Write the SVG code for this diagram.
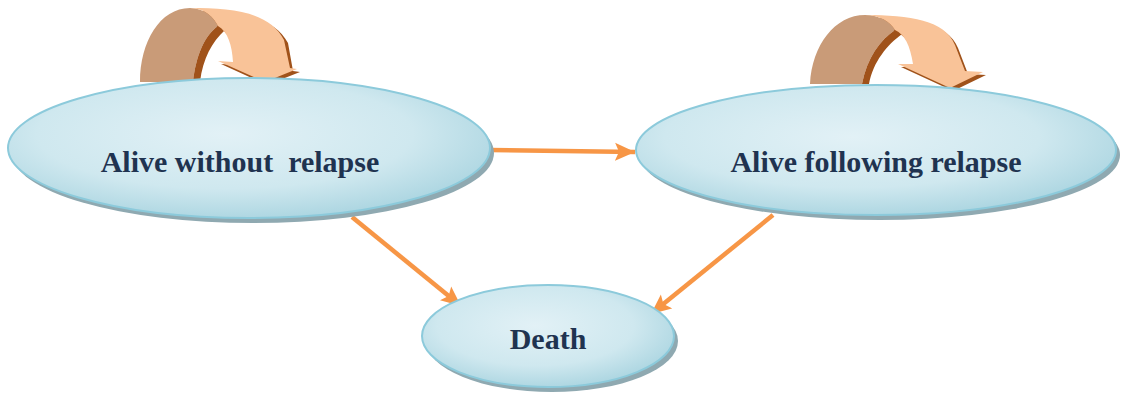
<svg xmlns="http://www.w3.org/2000/svg" width="1122" height="394" viewBox="0 0 1122 394">
<style>
.shadow{fill:#8fa9b1}
.oval{fill:url(#g);stroke:#8ccadb;stroke-width:2}
.lbl{font-family:"Liberation Serif","Times New Roman",serif;font-weight:bold;font-size:30px;fill:#1f3350;text-anchor:middle}
.conn{stroke:#f79646;stroke-width:4.5;fill:none}
.back{fill:#c99b78}
.front{fill:#f9c398}
.dark{fill:#a0521a}
</style>
<defs>
<radialGradient id="g" cx="0.45" cy="0.4" r="0.65">
<stop offset="0" stop-color="#e2f1f6"/>
<stop offset="0.6" stop-color="#cfe8ef"/>
<stop offset="1" stop-color="#a7d3df"/>
</radialGradient>
<marker id="ah" markerUnits="userSpaceOnUse" markerWidth="22" markerHeight="20" refX="20" refY="10" orient="auto">
<path d="M0,1 L20,10 L0,19 L4,10 Z" fill="#f79646"/>
</marker>
</defs>
<rect width="1122" height="394" fill="#ffffff"/>

<g id="loop1">
<path class="dark" d="M190,11 C233,11 273,15 288,43 L293,71 L300,72 L267,85 L221,64 L236,65 C235,48 231,35 221,29 Z"/>
<path class="back" d="M140,82 C140,42 160,8 190,8 C205,8 214,18 218,26 C205,35 196,55 193,82 Z"/>
<path class="dark" d="M218,26 L225,30 C212,42 203,58 200,82 L193,82 C196,55 205,35 218,26 Z"/>
<path class="front" d="M190,8 C233,8 270,12 284,40 L290,68 L297,69 L265,82 L218,61 L233,62 C232,45 228,32 218,26 C214,18 205,8 190,8 Z"/>
</g>

<g id="loop2">
<path class="dark" d="M868,18 C913,18 948,23 958,48 L968,74 L986,75 L953,91 L901,67 L916,67 C913,48 908,38 898,33 Z"/>
<path class="back" d="M810,84 C812,45 835,15 865,15 C880,15 890,22 895,30 C880,40 867,58 862,84 Z"/>
<path class="dark" d="M895,30 L902,34 C887,45 873,62 869,84 L862,84 C867,58 880,40 895,30 Z"/>
<path class="front" d="M865,15 C910,15 945,20 955,45 L965,71 L983,72 L950,88 L898,64 L913,64 C910,45 905,35 895,30 C890,22 880,15 865,15 Z"/>
</g>

<g id="connectors">
<line class="conn" x1="490" y1="150" x2="635" y2="152" marker-end="url(#ah)"/>
<line class="conn" x1="352" y1="217" x2="461" y2="306" marker-end="url(#ah)"/>
<line class="conn" x1="773" y1="215" x2="651" y2="314" marker-end="url(#ah)"/>
</g>

<g id="node-alive-without-relapse">
<ellipse class="shadow" cx="253" cy="153" rx="241" ry="70"/>
<ellipse class="oval" cx="249" cy="148" rx="241" ry="70"/>
<text class="lbl" x="240" y="172" xml:space="preserve">Alive without  relapse</text>
</g>

<g id="node-alive-following-relapse">
<ellipse class="shadow" cx="880" cy="155" rx="240" ry="65"/>
<ellipse class="oval" cx="876" cy="150" rx="240" ry="65"/>
<text class="lbl" x="876" y="172">Alive following relapse</text>
</g>

<g id="node-death">
<ellipse class="shadow" cx="552" cy="341" rx="126" ry="51"/>
<ellipse class="oval" cx="548" cy="336" rx="126" ry="51"/>
<text class="lbl" x="548" y="349">Death</text>
</g>
</svg>
